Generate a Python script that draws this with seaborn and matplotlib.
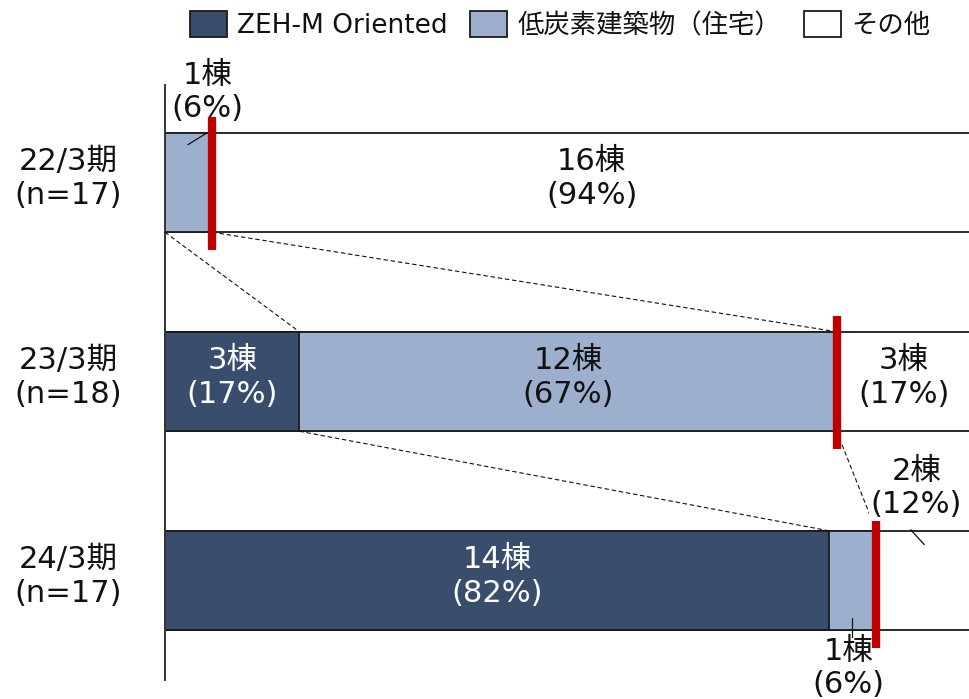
import matplotlib
matplotlib.use("Agg")
import matplotlib.pyplot as plt
import matplotlib.transforms as mtransforms
import seaborn as sns
import numpy as np
import pandas as pd
from matplotlib.patches import Patch

# ---- data ----
periods = ["22/3期\n(n=17)", "23/3期\n(n=18)", "24/3期\n(n=17)"]
zeh = [0, 3, 14]
low_carbon = [1, 12, 1]
other = [16, 3, 2]
series_names = ["ZEH-M Oriented", "低炭素建築物（住宅）", "その他"]
colors = ["#394d6d", "#9cafcd", "#ffffff"]
unit = "棟"

sns.set_theme(style="white")
plt.rcParams["font.family"] = ["DejaVu Sans", "Noto Sans CJK JP"]

zeh_a = np.array(zeh, float)
low_a = np.array(low_carbon, float)
oth_a = np.array(other, float)
totals = zeh_a + low_a + oth_a
p_zeh = zeh_a / totals
p_low = low_a / totals
p_oth = oth_a / totals
cum1 = p_zeh
cum2 = p_zeh + p_low
cum3 = cum2 + p_oth
rows = np.arange(len(periods))

df = pd.DataFrame({"period": periods, "c1": cum1, "c2": cum2, "c3": cum3})

fig = plt.figure(figsize=(9.69, 6.99), dpi=100)
ax = fig.add_axes([165 / 969, 1 - 680 / 699, 806 / 969, 595 / 699])

BW = 0.5
for col, c in [("c3", colors[2]), ("c2", colors[1]), ("c1", colors[0])]:
    sns.barplot(data=df, x=col, y="period", orient="h", color=c, saturation=1,
                width=BW, edgecolor="#1a1a1a", linewidth=1.3, errorbar=None, ax=ax)

ax.set_xlim(0, 1)
ax.set_ylim(2.5, -0.49)
ax.set_xlabel("")
ax.set_ylabel("")
ax.set_xticks([])
for s in ["top", "right", "bottom"]:
    ax.spines[s].set_visible(False)
ax.spines["left"].set_color("#333333")
ax.spines["left"].set_linewidth(1.4)
ax.tick_params(axis="y", length=0, labelleft=False)

fs = 22
LS = 1.2

# category labels (left of axis)
blend = mtransforms.blended_transform_factory(ax.transAxes, ax.transData)
for i, name in enumerate(periods):
    ax.text(-0.12, rows[i] - 0.02, name, transform=blend, ha="center", va="center",
            fontsize=fs, color="#111111", linespacing=LS, multialignment="center",
            clip_on=False)

# dashed connectors between consecutive bars
dash = dict(color="#111111", lw=0.8, ls=(0, (4, 2.5)), zorder=4)
for i in range(len(periods) - 1):
    ax.plot([cum1[i], cum1[i + 1]], [rows[i] + BW / 2, rows[i + 1] - BW / 2], **dash)
    ax.plot([cum2[i], cum2[i + 1]], [rows[i] + BW / 2, rows[i + 1] - BW / 2], **dash)

# red marker lines at ZEH + low-carbon share
ax.vlines(cum2, rows - 0.33, rows + 0.34, color="#c00000", lw=6, zorder=6)

def lab(v, p):
    return f"{int(v)}{unit}\n({round(p * 100):d}%)"

starts = [np.zeros(3), cum1, cum2]
vals = [zeh_a, low_a, oth_a]
pcts = [p_zeh, p_low, p_oth]
txt_colors = ["white", "#111111", "#111111"]
for k in range(3):
    for i in range(3):
        v = vals[k][i]
        if v == 0:
            continue
        mid = starts[k][i] + pcts[k][i] / 2
        if pcts[k][i] >= 0.15:
            ax.text(mid, rows[i] - 0.02, lab(v, pcts[k][i]), ha="center", va="center",
                    fontsize=fs, color=txt_colors[k], zorder=7, linespacing=LS)

# small segments: outside labels with leader lines
# 22/3 low-carbon (above)
i = 0
mid = cum1[i] + p_low[i] / 2
ax.text(mid + 0.023, rows[i] - 0.455, lab(low_a[i], p_low[i]), ha="center", va="center",
        fontsize=fs, color="#111111", zorder=7, linespacing=LS, clip_on=False)
ax.plot([mid - 0.001, mid + 0.023], [rows[i] - 0.19, rows[i] - 0.25], color="#111111", lw=0.9, zorder=7)

# 24/3 other (above)
i = 2
mid = cum2[i] + p_oth[i] / 2
ax.text(mid - 0.009, rows[i] - 0.465, lab(oth_a[i], p_oth[i]), ha="center", va="center",
        fontsize=fs, color="#111111", zorder=7, linespacing=LS, clip_on=False,
        bbox=dict(facecolor="white", edgecolor="none", pad=1))
ax.plot([mid - 0.016, mid + 0.001], [rows[i] - 0.255, rows[i] - 0.18], color="#111111", lw=0.9, zorder=7)

# 24/3 low-carbon (below)
mid = cum1[i] + p_low[i] / 2
ax.text(mid - 0.005, rows[i] + 0.44, lab(low_a[i], p_low[i]), ha="center", va="center",
        fontsize=fs, color="#111111", zorder=7, linespacing=LS, clip_on=False)
ax.plot([mid, mid], [rows[i] + 0.19, rows[i] + 0.285], color="#111111", lw=0.9, zorder=7, clip_on=False)

handles = [Patch(facecolor=c, edgecolor="#1a1a1a", linewidth=1.3) for c in colors]
fig.legend(handles, series_names, loc="center", bbox_to_anchor=(560 / 969, 1 - 25 / 699),
           ncol=3, frameon=False, fontsize=19, handlelength=1.4, handleheight=1.15,
           handletextpad=0.4, columnspacing=0.85, borderaxespad=0,
           labelcolor="#111111")

fig.savefig("out.png", dpi=100)
